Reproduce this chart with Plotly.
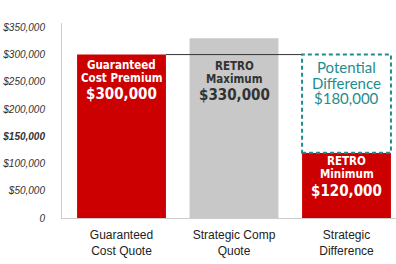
import plotly.graph_objects as go

categories = ["Guaranteed<br>Cost Quote", "Strategic Comp<br>Quote", "Strategic<br>Difference"]
guaranteed_premium = 300000
retro_maximum = 330000
retro_minimum = 120000
potential_difference = guaranteed_premium - retro_minimum
tick_vals = [0, 50000, 100000, 150000, 200000, 250000, 300000, 350000]
tick_text = ["0", "$50,000", "$100,000", "<b>$150,000</b>", "$200,000", "$250,000", "$300,000", "$350,000"]

RED = "#cc0000"
GRAY = "#c8c8c8"
TEAL = "#1f8c8e"
W = 0.79
xs = list(range(len(categories)))

fig = go.Figure()
fig.add_trace(go.Bar(x=[xs[0], xs[2]], y=[guaranteed_premium, retro_minimum], width=W,
                     marker=dict(color=RED, line=dict(width=0)), hoverinfo="skip"))
fig.add_trace(go.Bar(x=[xs[1]], y=[retro_maximum], width=W,
                     marker=dict(color=GRAY, line=dict(width=0)), hoverinfo="skip"))

fig.add_shape(type="line", xref="x", yref="y", x0=xs[0] + W / 2, x1=xs[2] - W / 2,
              y0=guaranteed_premium, y1=guaranteed_premium, line=dict(color="#333333", width=1), layer="above")
fig.add_shape(type="rect", xref="x", yref="y", x0=xs[2] - W / 2, x1=xs[2] + W / 2,
              y0=retro_minimum, y1=retro_minimum + potential_difference,
              line=dict(color=TEAL, width=2, dash="4px,3px"), fillcolor="white", layer="above")

COND = "DejaVu Sans Condensed, Liberation Sans Narrow, Arial Narrow, sans-serif"

def lines(x, ytop, items):
    for text, shift, size, color, bold, fam in items:
        fig.add_annotation(x=x, y=ytop, xref="x", yref="y", yanchor="middle", yshift=shift,
                           text=f"<b>{text}</b>" if bold else text, showarrow=False,
                           font=dict(family=fam, size=size, color=color))

lines(xs[0], guaranteed_premium, [
    ("Guaranteed", -10, 11.5, "white", True, COND),
    ("Cost Premium", -23, 11.5, "white", True, COND),
    (f"${guaranteed_premium:,}", -39, 15, "white", True, COND),
])
lines(xs[1], retro_maximum, [
    ("RETRO", -28, 11.5, "#333333", True, COND),
    ("Maximum", -41, 11.5, "#333333", True, COND),
    (f"${retro_maximum:,}", -57, 15, "#333333", True, COND),
])
lines(xs[2], guaranteed_premium, [
    ("Potential", -12, 15, TEAL, False, "Lato"),
    ("Difference", -28, 15, TEAL, False, "Lato"),
    (f"${potential_difference:,}", -43, 15, TEAL, False, "Lato"),
])
lines(xs[2], retro_minimum, [
    ("RETRO", -8, 11.5, "white", True, COND),
    ("Minimum", -21, 11.5, "white", True, COND),
    (f"${retro_minimum:,}", -38, 15, "white", True, COND),
])

fig.update_layout(
    width=396, height=264, margin=dict(l=62, r=0, t=23, b=46),
    plot_bgcolor="white", paper_bgcolor="white", showlegend=False, barmode="overlay",
    font=dict(family="Liberation Sans, Arial, sans-serif"),
)
fig.update_xaxes(range=[-0.529, 2.44], tickvals=xs, ticktext=categories, showgrid=False,
                 showline=True, linecolor="#cccccc", linewidth=1, ticks="", zeroline=False,
                 ticklabelstandoff=6,
                 tickfont=dict(size=12, color="#222222"))
fig.update_yaxes(range=[0, 358000], tickvals=tick_vals, ticktext=tick_text, showgrid=False,
                 showline=True, linecolor="#cccccc", linewidth=1, ticks="", zeroline=False,
                 ticklabelstandoff=14,
                 tickfont=dict(size=10, color="#333333", style="italic"))

fig.write_html("out.html")
